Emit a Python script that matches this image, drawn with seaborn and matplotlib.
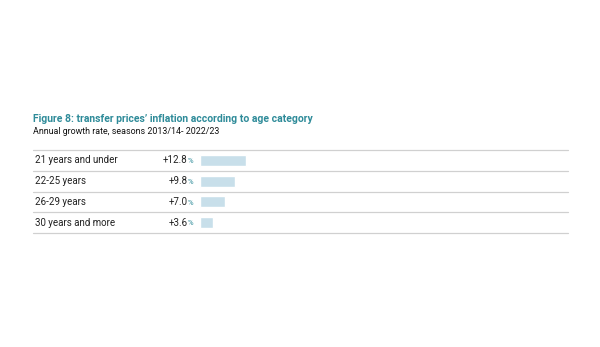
import matplotlib
matplotlib.use("Agg")
import matplotlib.pyplot as plt
import seaborn as sns
import pandas as pd

categories = ["21 years and under", "22-25 years", "26-29 years", "30 years and more"]
growth = [12.8, 9.8, 7.0, 3.6]
value_labels = ["+12.8", "+9.8", "+7.0", "+3.6"]

title = "Figure 8: transfer prices\u2019 inflation according to age category"
subtitle = "Annual growth rate, seasons 2013/14- 2022/23"

sns.set_style("white")
plt.rcParams["font.family"] = ["Roboto", "DejaVu Sans"]

df = pd.DataFrame({"category": categories, "growth": growth})

W, H = 600, 347
fig = plt.figure(figsize=(6, 3.47), dpi=100)
left_px, right_px, top_px, bot_px = 33, 568, 150, 233
ax = fig.add_axes([left_px / W, 1 - bot_px / H, (right_px - left_px) / W, (bot_px - top_px) / H])

bar_color = "#c8dfea"
sns.barplot(data=df, x="growth", y="category", orient="h", color=bar_color,
            width=0.53, ax=ax, saturation=1)

scale = 3.6  # px per unit
zero_px = 200
ax.set_xlim(-(zero_px - left_px) / scale, (right_px - zero_px) / scale)
ax.set_ylim(len(categories) - 0.5, -0.5)

for s in ax.spines.values():
    s.set_visible(False)
ax.set_xticks([])
ax.set_yticks([])
ax.set_xlabel("")
ax.set_ylabel("")

for b in [i - 0.5 for i in range(len(categories) + 1)]:
    ax.axhline(b, color="#d0d0d0", lw=0.9, zorder=0, clip_on=False)

num_x = (187.5 - left_px) / (right_px - left_px)
teal = "#2e8b99"
for i, (cat, lab) in enumerate(zip(categories, value_labels)):
    ax.text(0.004, i, cat, transform=ax.get_yaxis_transform(), ha="left", va="center",
            fontsize=7.0, color="#222222")
    ax.text(num_x, i, lab, transform=ax.get_yaxis_transform(), ha="right", va="center",
            fontsize=7.0, color="#222222")
    ax.text(num_x + 0.001, i + 0.04, "%", transform=ax.get_yaxis_transform(), ha="left", va="center",
            fontsize=5.5, color=teal)

fig.text(left_px / W, 1 - 119 / H, title, ha="left", va="center", fontsize=7.5,
         fontweight="bold", color=teal)
fig.text(left_px / W, 1 - 131 / H, subtitle, ha="left", va="center", fontsize=6.4,
         color="#111111")

fig.savefig("out.png", dpi=100)
